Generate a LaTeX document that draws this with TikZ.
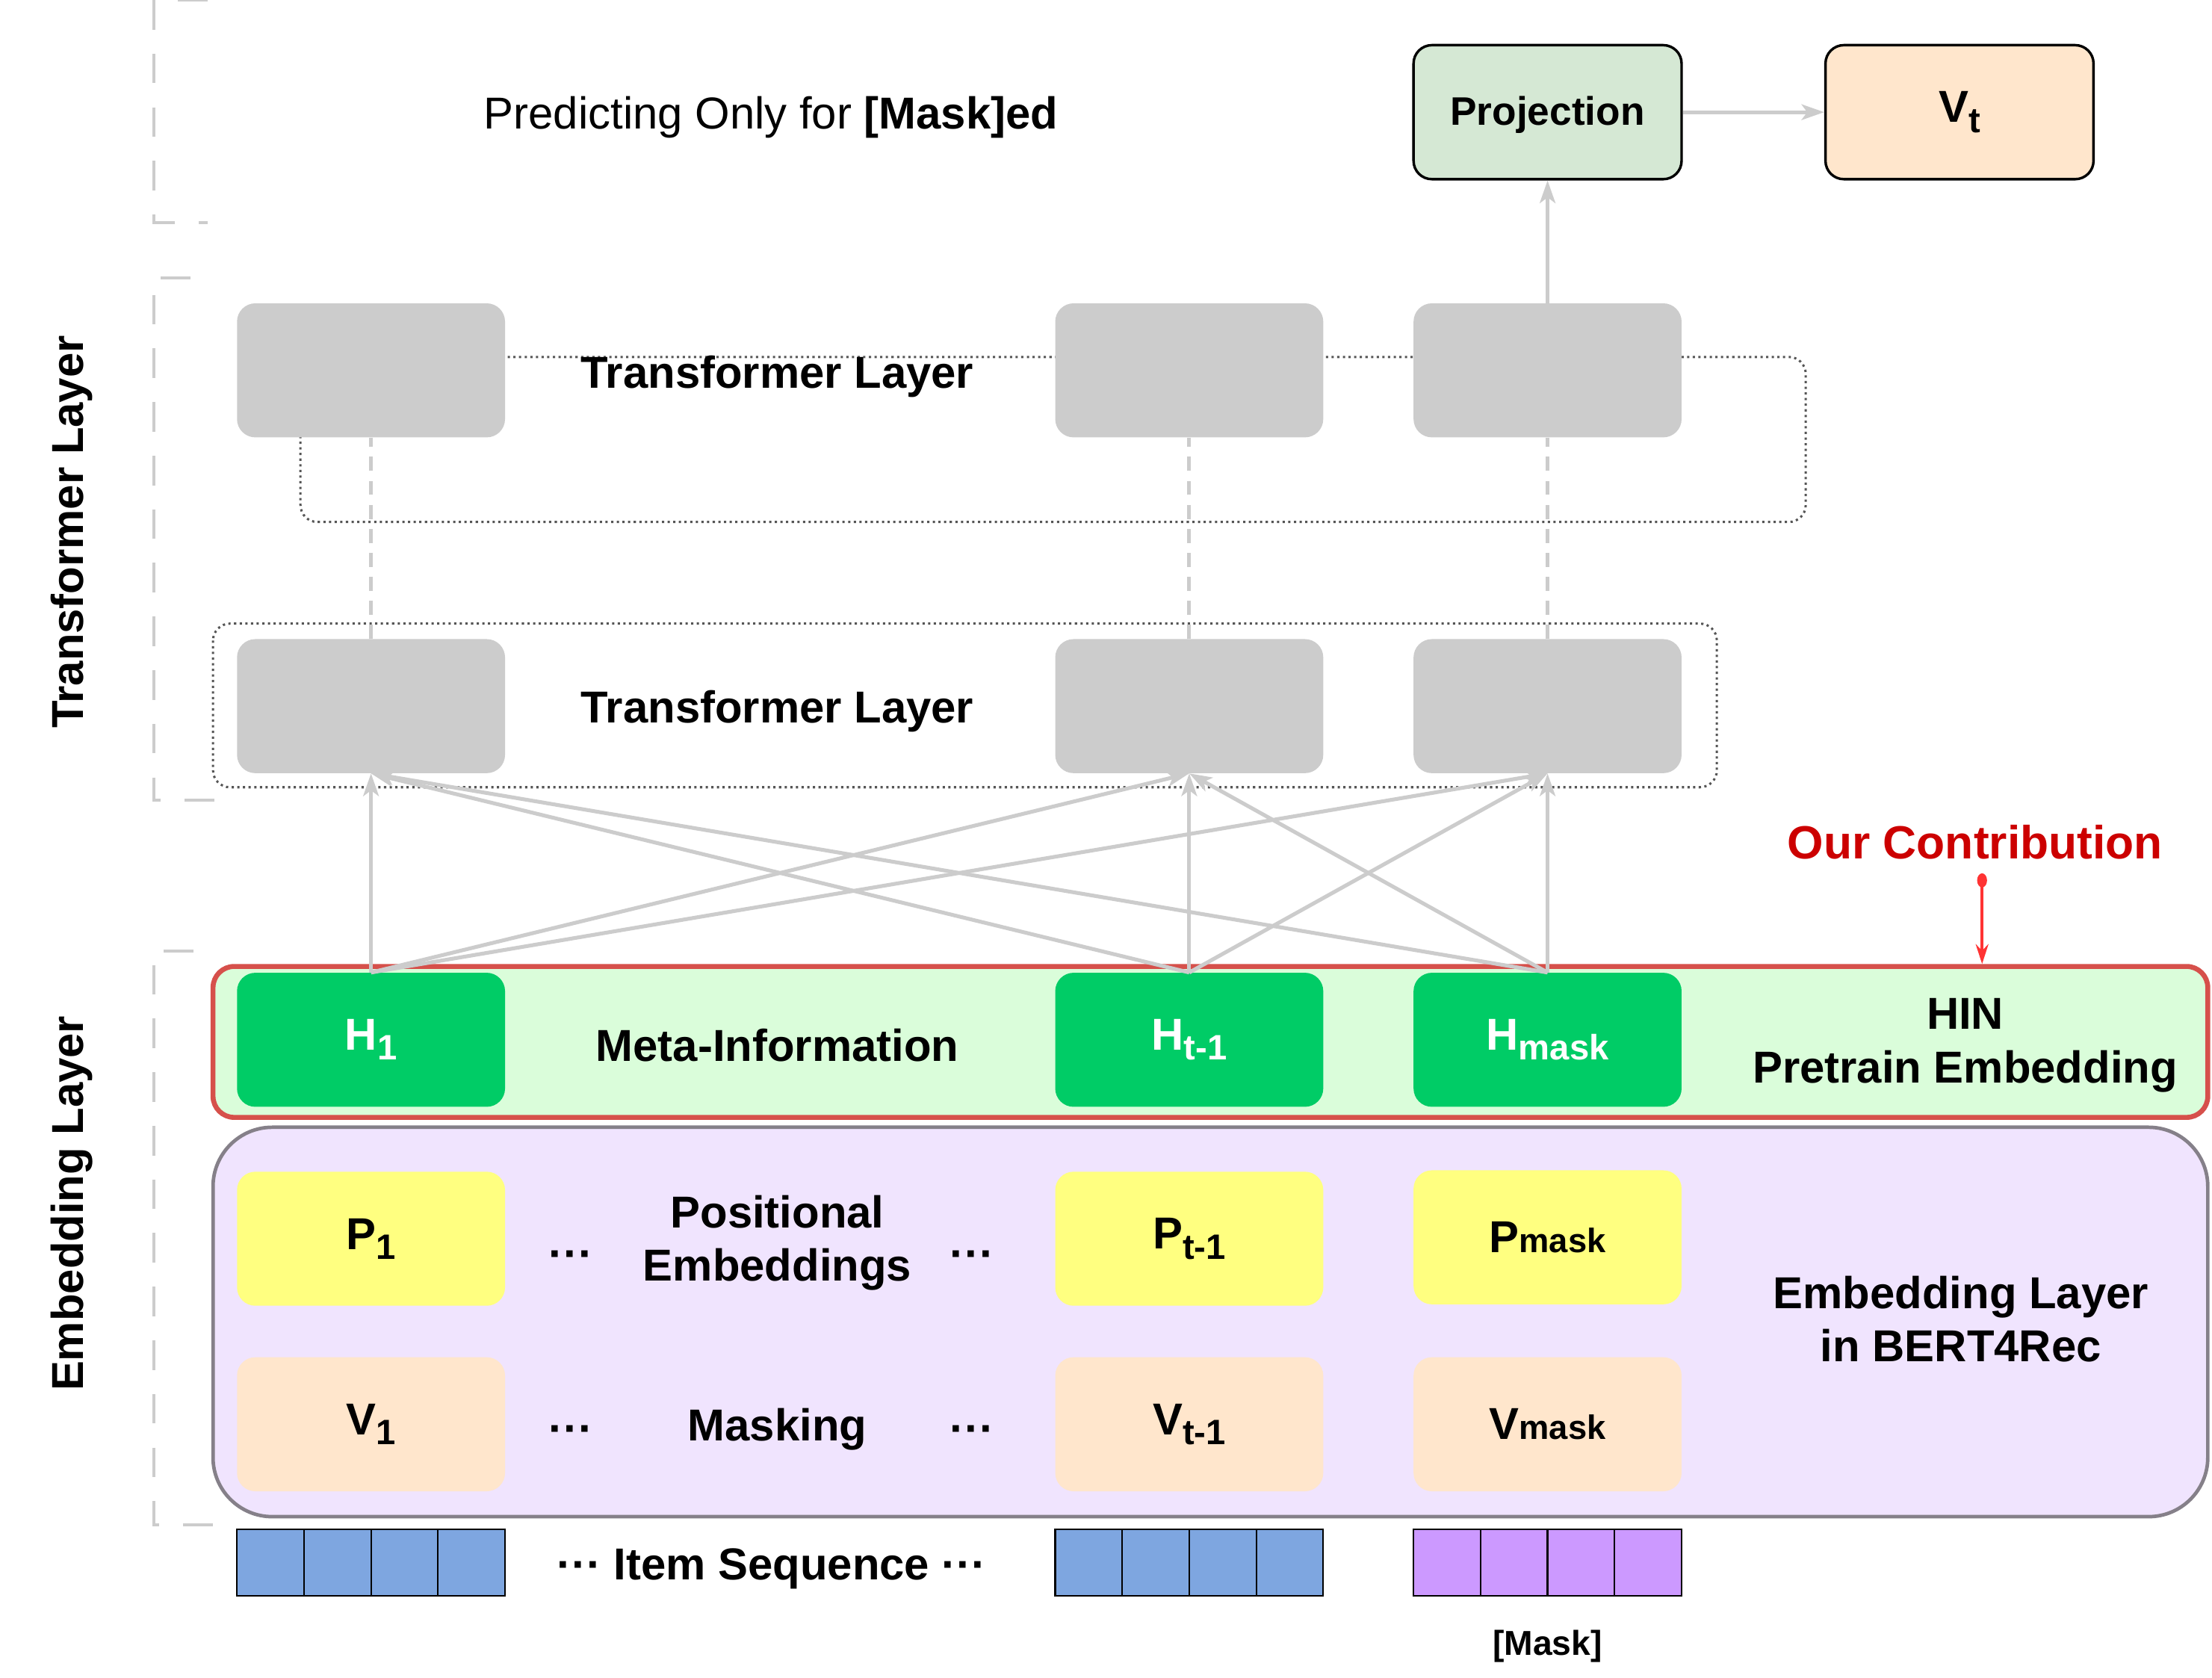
\documentclass[tikz,border=0pt]{standalone}
\usepackage{fontspec}
\setmainfont{Liberation Sans}
\usetikzlibrary{arrows.meta}
\definecolor{boxgray}{HTML}{CCCCCC}
\definecolor{hgreen}{HTML}{00CC66}
\definecolor{bandgreen}{RGB}{218,253,218}
\definecolor{bandred}{HTML}{D6504B}
\definecolor{embpurple}{RGB}{240,228,254}
\definecolor{embborder}{HTML}{858089}
\definecolor{pyellow}{HTML}{FFFF80}
\definecolor{vpeach}{HTML}{FFE6CC}
\definecolor{itemblue}{HTML}{7EA6E0}
\definecolor{itempurple}{HTML}{CC99FF}
\definecolor{projgreen}{HTML}{D5E8D4}
\definecolor{contribred}{HTML}{CC0000}
\definecolor{arrowred}{HTML}{FF3333}
\definecolor{dotgray}{HTML}{555555}
\newcommand{\lowsub}[1]{\raisebox{-7pt}{\fontsize{25}{25}\selectfont #1}}
\newcommand{\smalltail}[1]{{\fontsize{24}{24}\selectfont #1}}
\begin{document}
\begin{tikzpicture}[x=1pt,y=-1pt,
  every node/.style={font=\fontsize{31.7}{38}\selectfont\bfseries, inner sep=0pt},
  cell/.style={minimum width=190pt, minimum height=95pt, rounded corners=13pt},
  tbox/.style={cell, fill=boxgray},
  hbox/.style={cell, fill=hgreen, text=white},
  pbox/.style={cell, fill=pyellow},
  vbox/.style={cell, fill=vpeach},
  outbox/.style={cell, draw=black, line width=1.8pt},
  conn/.style={draw=boxgray, line width=2.7pt},
  tip/.style={-{Stealth[length=16pt,width=11pt,inset=4pt]}},
  frame/.style={draw=dotgray, line width=1.6pt, dash pattern=on 1.6pt off 2.4pt, rounded corners=12pt},
  bracket/.style={draw=boxgray, line width=2.2pt, dash pattern=on 21pt off 17pt},
  itemcell/.style={draw=black, line width=1.2pt, minimum width=47.5pt, minimum height=47pt},
  lbl/.style={align=center},
]
\fill[white] (0,0) rectangle (1568,1189);
\useasboundingbox (0,0) rectangle (1568,1189);

% left brackets
\draw[bracket] (147,0) -- (109,0) -- (109,158) -- (147,158);
\draw[bracket] (135,197) -- (109,197) -- (109,567) -- (154,567);
\draw[bracket] (137,674) -- (109,674) -- (109,1081) -- (154,1081);

% left labels
\node[rotate=90] (ltl) at (51,377) {Transformer Layer};
\node[rotate=90] (lel) at (51,853) {Embedding Layer};

% dotted frames
\draw[frame] (213,253) rectangle (1280,370);
\draw[frame] (151,442) rectangle (1217,558);

% panels
\node[draw=embborder, fill=embpurple, line width=2.5pt, rounded corners=42pt,
      minimum width=1414pt, minimum height=276pt] (embpanel) at (858,937) {};
\node[draw=bandred, fill=bandgreen, line width=3.5pt, rounded corners=15pt,
      minimum width=1414pt, minimum height=107pt] (band) at (858,738.5) {};

% top
\node[font=\fontsize{31.7}{37}\selectfont] (pred) at (546.5,83) {Predicting Only for \textbf{[Mask]ed}};
\node[outbox, fill=projgreen, font=\fontsize{28.2}{34}\selectfont\bfseries, text depth=2pt] (proj) at (1097,79.5) {Projection};
\node[outbox, fill=vpeach] (vt) at (1389,79.5) {V\lowsub{t}};

% transformer boxes
\node[tbox] (u1) at (263,262.5) {};
\node[tbox] (u2) at (843,262.5) {};
\node[tbox] (u3) at (1097,262.5) {};
\node[tbox] (l1) at (263,500.5) {};
\node[tbox] (l2) at (843,500.5) {};
\node[tbox] (l3) at (1097,500.5) {};
\node (tl1) at (551,267) {Transformer Layer};
\node (tl2) at (551,504) {Transformer Layer};

% H row
\node[hbox] (h1) at (263,737) {H\lowsub{1}};
\node[hbox] (h2) at (843,737) {H\lowsub{t-1}};
\node[hbox] (h3) at (1097,737) {H\lowsub{mask}};
\node (meta) at (551,741) {Meta-Information};
\node[lbl] (hin) at (1393,741) {HIN\\Pretrain Embedding};

% contribution
\node[text=contribred, font=\fontsize{33}{40}\selectfont\bfseries] (contrib) at (1400,597) {Our Contribution};
\coordinate (cstart) at (1405,624);
\fill[arrowred] (cstart) ellipse (3.5pt and 5pt);
\draw[arrowred, line width=2pt, -{Stealth[length=14pt,width=9pt]}] (cstart) -- (cstart |- band.north);

% P and V rows
\node[pbox] (p1) at (263,878) {P\lowsub{1}};
\node[pbox] (p2) at (843,878) {P\lowsub{t-1}};
\node[pbox] (p3) at (1097,877) {P\smalltail{mask}};
\node[vbox] (v1) at (263,1009.5) {V\lowsub{1}};
\node[vbox] (v2) at (843,1009.5) {V\lowsub{t-1}};
\node[vbox] (v3) at (1097,1009.5) {V\smalltail{mask}};
\node[lbl] (posemb) at (551,881) {Positional\\Embeddings};
\node (pd1) at (405,893) {···};
\node (pd2) at (689,893) {···};
\node (masking) at (551,1013) {Masking};
\node (vd1) at (405,1017) {···};
\node (vd2) at (689,1017) {···};
\node[lbl] (emb) at (1390,935) {Embedding Layer\\in BERT4Rec};

% item sequence
\foreach \g/\cx/\col in {1/263/itemblue, 2/843/itemblue, 3/1097/itempurple}
  \foreach \k in {0,...,3}
    \node[itemcell, fill=\col] (s\g\k) at ({\cx-71.25+\k*47.5},1107.5) {};
\node (seq) at (547,1112) {··· Item Sequence ···};
\node[font=\fontsize{24.5}{29}\selectfont\bfseries] (masklbl) at (1097,1167) {[Mask]};

% connectors
\foreach \a in {h1,h2,h3}
  \foreach \b in {l1,l2,l3}
    \draw[conn,tip] (\a.north) -- (\b.south);
\foreach \i in {1,2,3}
  \draw[conn, dash pattern=on 10pt off 7pt] (l\i.north) -- (u\i.south);
\draw[conn,tip] (u3.north) -- (proj.south);
\draw[conn,tip] (proj.east) -- (vt.west);
\end{tikzpicture}
\end{document}
